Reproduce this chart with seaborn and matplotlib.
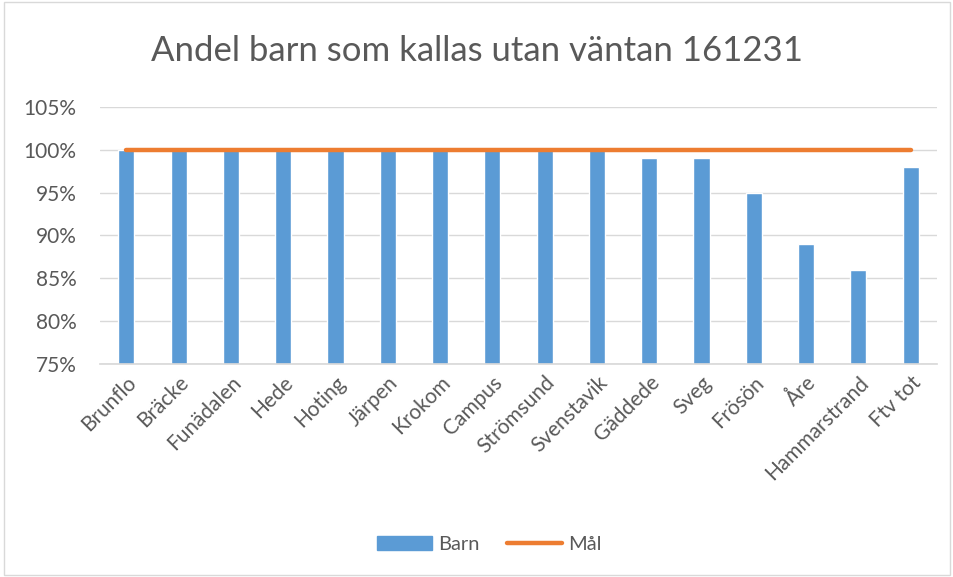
import matplotlib
matplotlib.use("Agg")
import matplotlib.pyplot as plt
import matplotlib.ticker as mticker
from matplotlib.lines import Line2D
from matplotlib.patches import Patch
import pandas as pd
import seaborn as sns

# Data
enheter = ["Brunflo", "Bräcke", "Funädalen", "Hede", "Hoting", "Järpen",
           "Krokom", "Campus", "Strömsund", "Svenstavik", "Gäddede", "Sveg",
           "Frösön", "Åre", "Hammarstrand", "Ftv tot"]
barn = [100, 100, 100, 100, 100, 100, 100, 100, 100, 100, 99, 99, 95, 89, 86, 98]
mal = [100] * len(enheter)

df = pd.DataFrame({"enhet": enheter, "barn": barn, "mal": mal})

sns.set_theme(style="white")
plt.rcParams["font.family"] = ["Lato", "DejaVu Sans"]

BLUE = "#5B9BD5"
ORANGE = "#ED7D31"
GREY = "#595959"

fig = plt.figure(figsize=(9.54, 5.77), dpi=100)
ax = fig.add_axes([0.105, 0.369, 0.877, 0.446])

sns.barplot(data=df, x="enhet", y="barn", color=BLUE, width=0.31,
            saturation=1, ax=ax, zorder=2)
ax.plot(range(len(enheter)), df["mal"], color=ORANGE, lw=3.2,
        solid_capstyle="round", zorder=3)

ax.set_ylim(75, 105)
ax.set_xlim(-0.5, len(enheter) - 0.5)
ax.yaxis.set_major_locator(mticker.MultipleLocator(5))
ax.yaxis.set_major_formatter(mticker.FuncFormatter(lambda v, p: f"{v:.0f}%"))
ax.grid(axis="y", color="#D9D9D9", lw=1, zorder=0)
ax.set_axisbelow(True)
for s in ["top", "right", "left"]:
    ax.spines[s].set_visible(False)
ax.spines["bottom"].set_color("#D9D9D9")
ax.set_xlabel("")
ax.set_ylabel("")
ax.tick_params(axis="y", labelsize=15, colors=GREY, length=0, pad=17)
ax.tick_params(axis="x", labelsize=15, colors=GREY, length=0, pad=6)
plt.setp(ax.get_xticklabels(), rotation=45, ha="right", rotation_mode="anchor")

fig.suptitle("Andel barn som kallas utan väntan 161231", y=0.94,
             fontsize=25, color=GREY)

handles = [Patch(color=BLUE, label="Barn"),
           Line2D([0], [0], color=ORANGE, lw=3.2, solid_capstyle="round", label="Mål")]
fig.legend(handles=handles, loc="center", bbox_to_anchor=(0.513, 0.057), ncol=2,
           frameon=False, fontsize=14.5, labelcolor=GREY, handlelength=2.7,
           columnspacing=1.4, handletextpad=0.3)

fig.patches.append(plt.Rectangle((0.004, 0.004), 0.992, 0.992, transform=fig.transFigure,
                                 fill=False, edgecolor="#D9D9D9", lw=1))

fig.savefig("out.png", dpi=100, facecolor="white")
